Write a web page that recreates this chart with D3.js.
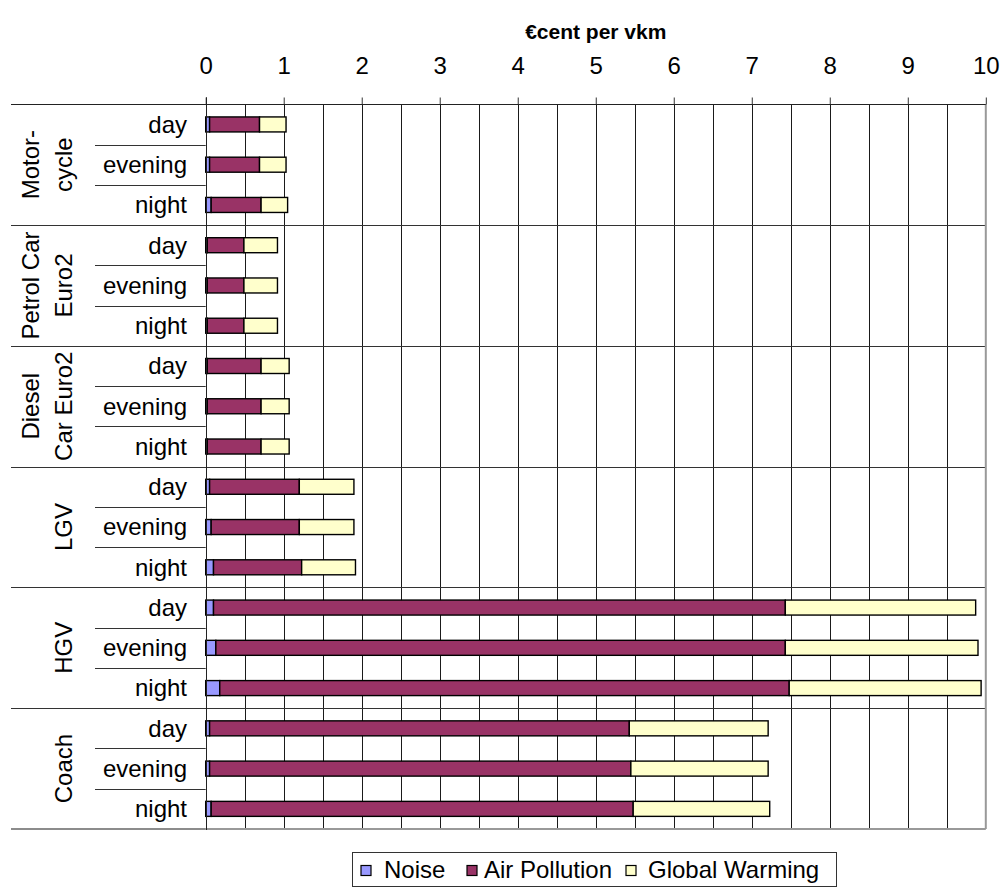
<!DOCTYPE html>
<html>
<head>
<meta charset="utf-8">
<script src="https://cdnjs.cloudflare.com/ajax/libs/d3/7.8.5/d3.min.js"></script>
<style>
  html, body { margin: 0; padding: 0; background: #fff; }
  svg { display: block; font-family: "Liberation Sans", Arial, sans-serif; }
</style>
</head>
<body>
<svg id="chart" width="1002" height="890"></svg>
<script>
// Vehicle groups (label lines drawn rotated) and time-of-day rows
const groups = [
  ["Motor-", "cycle"],
  ["Petrol Car", "Euro2"],
  ["Diesel", "Car Euro2"],
  ["LGV"],
  ["HGV"],
  ["Coach"]
];
const periods = ["day", "evening", "night"];

// Cost components, €cent per vkm, one entry per row (group x period)
const noise = [
  0.05, 0.05, 0.07,
  0.02, 0.02, 0.02,
  0.02, 0.02, 0.02,
  0.05, 0.07, 0.10,
  0.10, 0.13, 0.18,
  0.05, 0.05, 0.07
];
const airPollution = [
  0.64, 0.64, 0.64,
  0.47, 0.47, 0.47,
  0.69, 0.69, 0.69,
  1.15, 1.13, 1.13,
  7.33, 7.30, 7.30,
  5.38, 5.40, 5.41
];
const globalWarming = [
  0.34, 0.34, 0.34,
  0.43, 0.43, 0.43,
  0.36, 0.36, 0.36,
  0.70, 0.70, 0.69,
  2.44, 2.47, 2.46,
  1.78, 1.76, 1.75
];

const seriesNames = ["Noise", "Air Pollution", "Global Warming"];
const seriesColors = ["#9999FF", "#993366", "#FFFFCC"];
const xTicks = [0, 1, 2, 3, 4, 5, 6, 7, 8, 9, 10];
const axisTitle = "€cent per vkm";

// Build row table
const rows = [];
groups.forEach((g, gi) => {
  periods.forEach((p, pi) => {
    const i = gi * periods.length + pi;
    rows.push({ key: gi + "-" + p, group: gi, period: p,
      "Noise": noise[i], "Air Pollution": airPollution[i], "Global Warming": globalWarming[i] });
  });
});

const svg = d3.select("#chart");
const plot = { left: 205.7, right: 985.8, top: 104.3, bottom: 829 };
const labelLeft = 11;
const fontSize = 24;

const x = d3.scaleLinear().domain([0, 10]).range([plot.left, plot.right]);
const y = d3.scaleBand().domain(rows.map(r => r.key)).range([plot.top, plot.bottom]);
const groupH = y.step() * periods.length;
const color = d3.scaleOrdinal().domain(seriesNames).range(seriesColors);

// Vertical gridlines every 0.5
const gridVals = d3.range(1, 20).map(d => d / 2);
svg.append("g").selectAll("line").data(gridVals).join("line")
  .attr("x1", d => Math.round(x(d)) + 0.5).attr("x2", d => Math.round(x(d)) + 0.5)
  .attr("y1", plot.top).attr("y2", plot.bottom)
  .attr("stroke", "#1a1a1a").attr("stroke-width", 1);

// Horizontal separators between vehicle groups
const groupEdges = d3.range(1, groups.length).map(i => plot.top + i * groupH);
svg.append("g").selectAll("line").data(groupEdges).join("line")
  .attr("x1", labelLeft).attr("x2", plot.right)
  .attr("y1", d => Math.round(d) + 0.5).attr("y2", d => Math.round(d) + 0.5)
  .attr("stroke", "#333").attr("stroke-width", 1);

// Short separators between periods inside each group
const subEdges = [];
groups.forEach((g, gi) => {
  for (let k = 1; k < periods.length; k++) subEdges.push(plot.top + gi * groupH + k * y.step());
});
svg.append("g").selectAll("line").data(subEdges).join("line")
  .attr("x1", 95).attr("x2", plot.left)
  .attr("y1", d => Math.round(d) + 0.5).attr("y2", d => Math.round(d) + 0.5)
  .attr("stroke", "#333").attr("stroke-width", 1);

// Plot border: right and bottom in gray
svg.append("line").attr("x1", plot.right).attr("x2", plot.right)
  .attr("y1", plot.top).attr("y2", plot.bottom).attr("stroke", "#999").attr("stroke-width", 2);
svg.append("line").attr("x1", plot.left).attr("x2", plot.right)
  .attr("y1", plot.bottom).attr("y2", plot.bottom).attr("stroke", "#999").attr("stroke-width", 2);
svg.append("line").attr("x1", labelLeft).attr("x2", plot.left)
  .attr("y1", plot.bottom).attr("y2", plot.bottom).attr("stroke", "#666").attr("stroke-width", 1.5);

// Stacked bars
const stack = d3.stack().keys(seriesNames);
const stacked = stack(rows);
const barH = 15;
svg.append("g").selectAll("g").data(stacked).join("g")
  .attr("fill", d => color(d.key))
  .selectAll("rect").data(d => d).join("rect")
  .attr("x", d => x(d[0]))
  .attr("width", d => x(d[1]) - x(d[0]))
  .attr("y", d => y(d.data.key) + y.bandwidth() / 2 - barH / 2)
  .attr("height", barH)
  .attr("stroke", "#000").attr("stroke-width", 1.4);

// Top value axis
const axisG = svg.append("g").attr("transform", `translate(0,${Math.round(plot.top) + 0.5})`);
axisG.call(d3.axisTop(x).tickValues(xTicks).tickFormat(d3.format("d")).tickSize(7).tickPadding(24));
axisG.select(".domain").remove();
axisG.selectAll(".tick line").attr("stroke", "#333");
axisG.selectAll(".tick text").attr("font-size", fontSize).attr("fill", "#000")
  .attr("font-family", "Liberation Sans, Arial, sans-serif");
svg.append("line").attr("x1", labelLeft).attr("x2", plot.right)
  .attr("y1", Math.round(plot.top) + 0.5).attr("y2", Math.round(plot.top) + 0.5)
  .attr("stroke", "#222").attr("stroke-width", 1);

// Left axis line
svg.append("line").attr("x1", Math.round(plot.left) + 0.5).attr("x2", Math.round(plot.left) + 0.5)
  .attr("y1", plot.top - 7).attr("y2", plot.bottom + 1)
  .attr("stroke", "#222").attr("stroke-width", 1);

// Axis title
svg.append("text").attr("x", (plot.left + plot.right) / 2).attr("y", 39)
  .attr("text-anchor", "middle").attr("font-weight", "bold").attr("font-size", 21)
  .text(axisTitle);

// Period labels
svg.append("g").selectAll("text").data(rows).join("text")
  .attr("x", 187).attr("y", d => y(d.key) + y.bandwidth() / 2)
  .attr("dy", "0.35em").attr("text-anchor", "end").attr("font-size", fontSize)
  .text(d => d.period);

// Vehicle group labels, rotated
groups.forEach((g, gi) => {
  const cy = plot.top + gi * groupH + groupH / 2;
  const n = g.length;
  g.forEach((line, li) => {
    const bx = 72 - (n - 1 - li) * 33;
    svg.append("text")
      .attr("transform", `translate(${bx},${cy}) rotate(-90)`)
      .attr("text-anchor", "middle").attr("font-size", fontSize)
      .text(line);
  });
});

// Legend
const legend = svg.append("g");
legend.append("rect").attr("x", 352.5).attr("y", 852.5).attr("width", 484).attr("height", 34)
  .attr("fill", "#fff").attr("stroke", "#333").attr("stroke-width", 1);
const legendItems = [
  { name: seriesNames[0], mx: 361, tx: 384 },
  { name: seriesNames[1], mx: 467, tx: 484 },
  { name: seriesNames[2], mx: 626, tx: 648 }
];
legendItems.forEach(it => {
  legend.append("rect").attr("x", it.mx).attr("y", 865.5).attr("width", 10).attr("height", 10)
    .attr("fill", color(it.name)).attr("stroke", "#000").attr("stroke-width", 1.2);
  legend.append("text").attr("x", it.tx).attr("y", 870).attr("dy", "0.35em")
    .attr("font-size", fontSize).text(it.name);
});
</script>
</body>
</html>
